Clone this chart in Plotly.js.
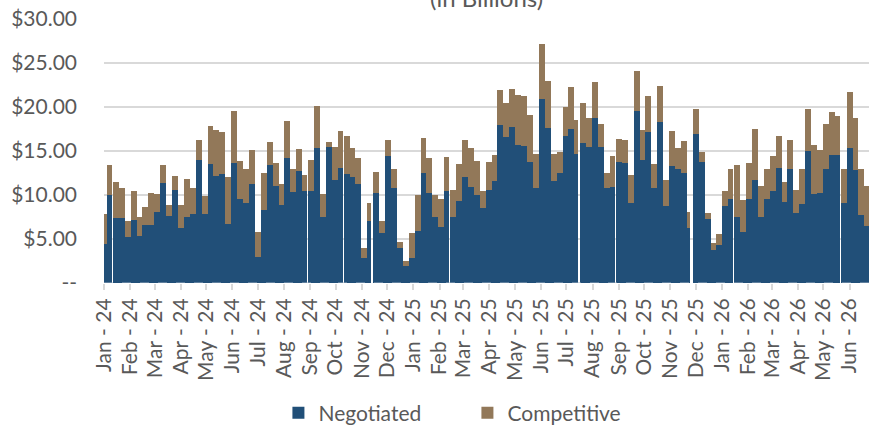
<!DOCTYPE html>
<html>
<head>
<meta charset="utf-8">
<script src="https://cdn.plot.ly/plotly-3.0.1.min.js"></script>
<style>
  html, body { margin: 0; padding: 0; background: #fff; }
  #chart { width: 869px; height: 425px; }
</style>
</head>
<body>
<div id="chart"></div>
<script>
// weekly issuance, $ billions, first week of Jan 2024 onward
var firstWeek = '2024-01-01';

var negotiated = [
    4.4, 10.0, 7.4, 7.4, 5.2, 7.2, 5.3, 6.6, 6.6, 8.1,
    11.4, 7.6, 10.6, 6.3, 7.5, 7.8, 14.0, 7.8, 13.5, 12.2,
    12.4, 6.7, 13.6, 9.6, 9.1, 11.2, 3.0, 8.3, 13.4, 11.0,
    8.9, 14.2, 10.3, 12.7, 10.5, 10.4, 15.3, 7.5, 15.4, 11.7,
    13.1, 12.4, 12.1, 11.2, 2.8, 7.0, 10.2, 5.7, 14.4, 10.8,
    4.0, 1.9, 2.8, 5.9, 12.5, 10.2, 7.5, 6.4, 10.5, 7.5,
    9.3, 12.1, 10.9, 10.0, 8.5, 10.6, 11.6, 18.0, 16.6, 17.7,
    15.7, 15.6, 13.7, 10.8, 20.9, 17.6, 11.6, 12.5, 16.7, 17.5,
    14.7, 15.9, 15.4, 18.8, 15.4, 10.8, 10.9, 13.8, 13.6, 9.1,
    19.5, 14.0, 17.2, 10.8, 18.3, 8.75, 13.3, 13.0, 12.5, 6.2,
    16.9, 13.7, 7.3, 3.8, 4.3, 8.7, 9.6, 7.5, 5.8, 9.6,
    11.7, 7.5, 9.6, 10.4, 13.1, 9.2, 13.0, 7.9, 9.0, 15.0,
    10.1, 10.2, 13.0, 14.6, 14.6, 9.05, 15.3, 12.8, 7.7, 6.5
];

var competitive = [
    3.4, 3.4, 4.1, 3.4, 1.8, 3.3, 2.2, 2.0, 3.6, 2.0,
    2.0, 1.3, 1.6, 2.6, 4.3, 3.0, 2.2, 2.1, 4.3, 5.2,
    4.8, 5.4, 6.0, 4.3, 3.9, 3.9, 2.8, 4.2, 2.6, 2.6,
    2.3, 4.2, 2.6, 2.5, 1.8, 3.6, 4.8, 2.6, 0.6, 3.7,
    4.2, 4.3, 3.2, 3.0, 1.2, 2.1, 2.4, 1.3, 1.9, 2.2,
    0.7, 0.6, 2.9, 4.1, 4.0, 4.0, 2.5, 3.1, 3.8, 3.1,
    4.2, 4.1, 4.4, 3.9, 1.9, 3.2, 2.9, 3.9, 3.9, 4.3,
    5.7, 5.6, 5.4, 3.9, 6.3, 5.3, 3.1, 2.4, 3.3, 4.8,
    3.8, 4.5, 3.4, 4.0, 2.7, 1.7, 3.5, 2.6, 2.7, 3.2,
    4.6, 3.4, 4.0, 2.7, 4.1, 2.95, 4.0, 2.3, 3.6, 1.9,
    2.9, 1.2, 0.6, 0.8, 1.3, 1.8, 3.4, 5.9, 3.6, 4.0,
    5.8, 3.5, 3.4, 4.0, 3.6, 2.3, 3.3, 2.7, 3.9, 4.8,
    5.6, 4.9, 5.1, 4.8, 4.4, 3.85, 6.4, 6.0, 5.2, 4.5
];

// weeks followed by a visible break in the original chart (1-based)
var thinBreaks = [2, 7, 21, 35, 41, 55, 59, 87, 107, 125];
var wideBreaks = [46, 81, 100];

var yTicks = [0, 5, 10, 15, 20, 25, 30];
var yTickText = ['--', '$5.00', '$10.00', '$15.00', '$20.00', '$25.00', '$30.00'];

var DAY = 86400000;
var weeks = [];
var widths = [];
var offsets = [];
var start = new Date(firstWeek + 'T00:00:00Z').getTime();
for (var i = 0; i < negotiated.length; i++) {
    var d = new Date(start + i * 7 * DAY);
    weeks.push(d.toISOString().slice(0, 10));
    var gap = 0;
    if (thinBreaks.indexOf(i + 1) >= 0) gap = 0.9;
    if (wideBreaks.indexOf(i + 1) >= 0) gap = 3;
    widths.push((7 - gap) * DAY);
    offsets.push(-3.5 * DAY);
}

var fontFamily = 'Lato, "Liberation Sans", sans-serif';
var grey = '#595959';

var negTrace = {
    type: 'bar',
    name: 'Negotiated',
    x: weeks,
    y: negotiated,
    width: widths,
    offset: offsets,
    marker: { color: '#214F78', line: { width: 0 } },
    hoverinfo: 'skip'
};

var compTrace = {
    type: 'bar',
    name: 'Competitive',
    x: weeks,
    y: competitive,
    width: widths,
    offset: offsets,
    marker: { color: '#927859', line: { width: 0 } },
    hoverinfo: 'skip'
};

var layout = {
    width: 869,
    height: 425,
    margin: { l: 104, r: 0, t: 19, b: 142 },
    paper_bgcolor: '#ffffff',
    plot_bgcolor: '#ffffff',
    barmode: 'stack',
    bargap: 0,
    font: { family: fontFamily, size: 20, color: grey },
    showlegend: true,
    legend: {
        orientation: 'h',
        xref: 'paper',
        x: 0.228,
        xanchor: 'left',
        yref: 'container',
        y: 0.028,
        yanchor: 'middle',
        entrywidth: 144,
        font: { family: fontFamily, size: 21, color: grey },
        traceorder: 'normal'
    },
    xaxis: {
        type: 'date',
        range: ['2024-01-01', '2026-06-24'],
        tick0: '2024-01-01',
        dtick: 'M1',
        tickformat: '%b - %y',
        tickangle: -90,
        ticks: 'outside',
        ticklen: 6,
        tickwidth: 2,
        tickcolor: '#D9D9D9',
        showgrid: false,
        showline: false,
        zeroline: false,
        tickfont: { family: fontFamily, size: 21, color: grey }
    },
    yaxis: {
        range: [0, 30],
        tickvals: yTicks,
        ticktext: yTickText,
        showgrid: true,
        gridcolor: '#D9D9D9',
        gridwidth: 1.5,
        zeroline: false,
        showline: false,
        ticks: '',
        ticklabelstandoff: 26,
        tickfont: { family: fontFamily, size: 21, color: grey }
    },
    shapes: [{
        type: 'line',
        xref: 'paper',
        yref: 'y',
        x0: 0, x1: 1,
        y0: 0, y1: 0,
        line: { color: '#9FB0C2', width: 1, dash: 'dash' },
        layer: 'above'
    }],
    annotations: [{
        text: '(in Billions)',
        xref: 'paper',
        yref: 'paper',
        x: 0.5,
        y: 1,
        xanchor: 'center',
        yanchor: 'middle',
        yshift: 22,
        showarrow: false,
        font: { family: fontFamily, size: 24, color: grey }
    }]
};

Plotly.newPlot('chart', [negTrace, compTrace], layout, { displayModeBar: false, staticPlot: true });
</script>
</body>
</html>
